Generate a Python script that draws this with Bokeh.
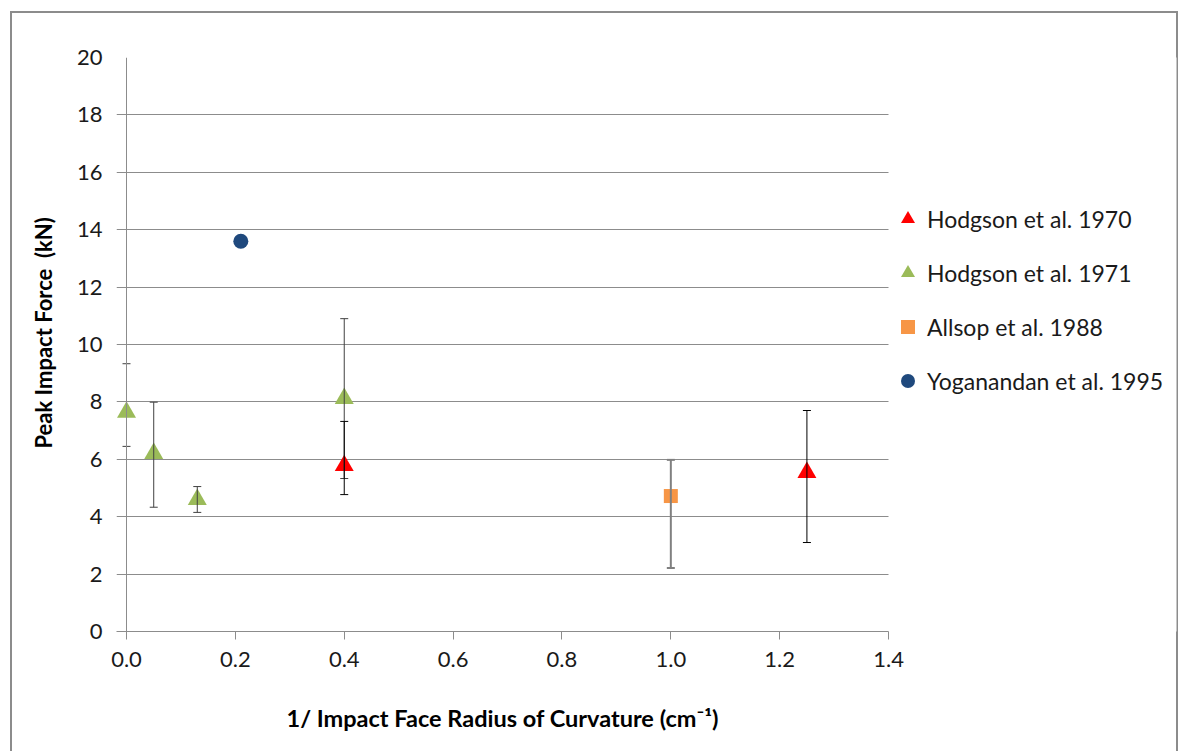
from bokeh.plotting import figure
from bokeh.models import (ColumnDataSource, Range1d, FixedTicker, Whisker, TeeHead,
                          Legend, LegendItem, PrintfTickFormatter, Span, Title)
from bokeh.embed import file_html
from bokeh.resources import INLINE

# ---- data ----
h70_x = [0.40, 1.25]
h70_y = [5.78, 5.54]
h70_lo = [4.77, 3.10]
h70_hi = [7.32, 7.70]

h71_x = [0.00, 0.05, 0.13, 0.40]
h71_y = [7.64, 6.20, 4.60, 8.12]
h71_lo = [6.45, 4.33, 4.15, 5.33]
h71_hi = [9.33, 7.99, 5.05, 10.90]

als_x = [1.00]
als_y = [4.72]
als_lo = [2.21]
als_hi = [5.98]

yog_x = [0.21]
yog_y = [13.60]

x_ticks = [0.0, 0.2, 0.4, 0.6, 0.8, 1.0, 1.2, 1.4]
y_ticks = [0, 2, 4, 6, 8, 10, 12, 14, 16, 18, 20]
labels = ["Hodgson et al. 1970", "Hodgson et al. 1971", "Allsop et al. 1988", "Yoganandan et al. 1995"]
x_title = "1/ Impact Face Radius of Curvature (cm\u207b\u00b9)"
y_title = "Peak Impact Force \u00a0(kN)"

FONT = "Lato"
GRID = "#8c8c8c"
BORDER = "#8c8c8c"

X0, X1 = -0.0184, 1.929   # frame spans past the plotted area so the legend is not clipped

line_bg = f"linear-gradient({BORDER}, {BORDER})"
p = figure(width=1184, height=751, output_backend="svg", toolbar_location=None,
           x_range=Range1d(X0, X1), y_range=Range1d(0, 20),
           min_border_left=116, min_border_right=8, min_border_top=57, min_border_bottom=120)
p.outline_line_color = None
p.background_fill_color = "white"
p.border_fill_alpha = 0
p.styles = {
    "background-color": "white",
    "background-image": ", ".join([line_bg] * 3),
    "background-position": "10px 11px, 1176px 11px, 10px 11px",
    "background-size": "2px 100%, 2px 100%, 1168px 2px",
    "background-repeat": "no-repeat",
}

for ax in (p.xaxis[0], p.yaxis[0]):
    ax.axis_line_color = GRID
    ax.major_tick_line_color = GRID
    ax.major_tick_out = 8
    ax.major_tick_in = 0
    ax.minor_tick_line_color = None
    ax.major_label_text_font = FONT
    ax.major_label_text_font_size = "22px"
    ax.major_label_text_color = "#1a1a1a"

p.xaxis.bounds = (X0, 1.4)
p.xaxis.ticker = FixedTicker(ticks=x_ticks)
p.xaxis.formatter = PrintfTickFormatter(format="%.1f")
p.yaxis.ticker = FixedTicker(ticks=y_ticks)
p.yaxis.axis_line_color = None
p.yaxis.major_tick_line_color = None
p.yaxis.major_tick_out = 0
p.xaxis.major_label_standoff = 12
p.yaxis.major_label_standoff = 14
# invisible spacer label to push the x title down
p.xaxis.axis_label = "\u00a0"
p.xaxis.axis_label_text_font_size = "1px"
p.xaxis.axis_label_standoff = 28

# axis titles (as titles so that they can be centred on the plotted area)
xt = Title(text=x_title, align="left", offset=170, text_font=FONT, text_font_size="23.5px",
           text_font_style="bold", text_color="#000000", standoff=0)
p.add_layout(xt, "below")
yt = Title(text=y_title, align="left", offset=183, text_font=FONT, text_font_size="22px",
           text_font_style="bold", text_color="#000000", standoff=34)
p.add_layout(yt, "left")

p.xgrid.grid_line_color = None
p.ygrid.grid_line_color = GRID
p.ygrid.grid_line_width = 1
p.ygrid.cross_bounds = (X0, 1.4)

p.add_layout(Span(location=0, dimension="height", line_color=GRID, line_width=1))

# error bars
def add_whisker(xs, lo, hi, color, width):
    src = ColumnDataSource(dict(x=xs, lo=lo, hi=hi))
    w = Whisker(source=src, base="x", lower="lo", upper="hi", line_color=color, line_width=width,
                upper_head=TeeHead(size=8, line_color=color, line_width=width),
                lower_head=TeeHead(size=8, line_color=color, line_width=width), level="glyph")
    p.add_layout(w)

add_whisker(h71_x, h71_lo, h71_hi, "#404040", 1)
add_whisker(h70_x, h70_lo, h70_hi, "#000000", 1)
add_whisker(als_x, als_lo, als_hi, "#808080", 2)

r71 = p.scatter(h71_x, h71_y, marker="triangle", size=19, fill_color="#9BBB59", line_color=None)
r70 = p.scatter(h70_x, h70_y, marker="triangle", size=19, fill_color="#FF0000", line_color=None)
ral = p.scatter(als_x, als_y, marker="square", size=14, fill_color="#F79646", line_color=None)
ryo = p.scatter(yog_x, yog_y, marker="circle", size=15, fill_color="#1F497D", line_color=None)

legend = Legend(items=[LegendItem(label=labels[0], renderers=[r70]),
                       LegendItem(label=labels[1], renderers=[r71]),
                       LegendItem(label=labels[2], renderers=[ral]),
                       LegendItem(label=labels[3], renderers=[ryo])],
                location=(774, 233), glyph_height=35, glyph_width=35, spacing=19,
                label_standoff=2, padding=0, margin=0, border_line_color=None,
                background_fill_alpha=0, label_text_font=FONT, label_text_font_size="23px",
                label_text_color="#1a1a1a", label_height=35)
p.add_layout(legend, "center")

open("out.html", "w").write(file_html(p, INLINE))
